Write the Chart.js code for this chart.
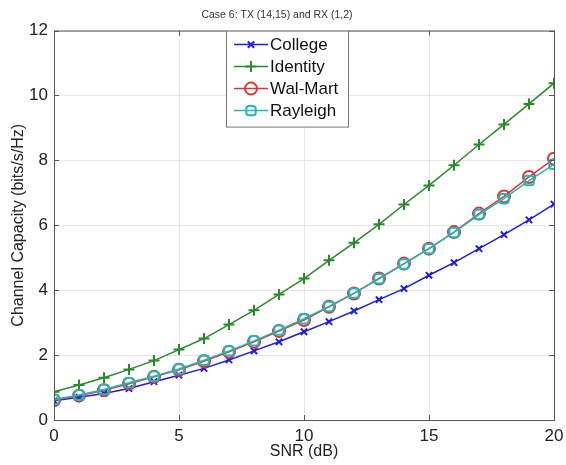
<!DOCTYPE html>
<html lang="en">
<head>
<meta charset="UTF-8">
<title>Case 6: TX (14,15) and RX (1,2)</title>
<script src="https://cdn.jsdelivr.net/npm/chart.js"></script>
<style>
  html, body { margin: 0; padding: 0; background: #fff; }
  #wrap { width: 566px; height: 465px; }
</style>
</head>
<body>
<div id="wrap"><canvas id="myChart" width="566" height="465"></canvas></div>
<script>
// data
const snr = [0, 1, 2, 3, 4, 5, 6, 7, 8, 9, 10, 11, 12, 13, 14, 15, 16, 17, 18, 19, 20];
const college  = [0.59, 0.70, 0.82, 0.97, 1.18, 1.38, 1.59, 1.85, 2.13, 2.41, 2.72, 3.03, 3.36, 3.71, 4.05, 4.46, 4.85, 5.28, 5.71, 6.17, 6.65];
const identity = [0.87, 1.08, 1.30, 1.56, 1.83, 2.17, 2.51, 2.94, 3.38, 3.87, 4.36, 4.92, 5.46, 6.03, 6.64, 7.23, 7.85, 8.49, 9.11, 9.74, 10.38];
const walmart  = [0.61, 0.75, 0.92, 1.12, 1.33, 1.55, 1.81, 2.10, 2.41, 2.74, 3.08, 3.49, 3.90, 4.36, 4.82, 5.28, 5.79, 6.36, 6.89, 7.49, 8.05];
const rayleigh = [0.63, 0.77, 0.94, 1.15, 1.35, 1.57, 1.84, 2.13, 2.44, 2.77, 3.12, 3.50, 3.91, 4.35, 4.81, 5.28, 5.78, 6.33, 6.82, 7.38, 7.88];
const seriesNames = ['College', 'Identity', 'Wal-Mart', 'Rayleigh'];
const xTicks = [0, 5, 10, 15, 20];
const yTicks = [0, 2, 4, 6, 8, 10, 12];

const FONT = "'Liberation Sans', Arial, sans-serif";

function series(name, values, color, style, radius, order) {
    return {
        label: name,
        data: snr.map((x, i) => ({ x: x, y: values[i] })),
        borderColor: color,
        backgroundColor: color,
        borderWidth: 1.5,
        pointStyle: style,
        pointRadius: radius,
        pointBorderColor: color,
        pointBackgroundColor: 'rgba(0,0,0,0)',
        pointBorderWidth: 2,
        tension: 0,
        order: order
    };
}

const datasets = [
    series(seriesNames[0], college, '#1f1fe0', 'crossRot', 4.5, 3),
    series(seriesNames[1], identity, '#2a8a2a', 'cross', 5.5, 2),
    series(seriesNames[2], walmart, '#e03535', 'circle', 6, 1),
    series(seriesNames[3], rayleigh, '#27b5b5', 'rectRounded', 5.5, 0)
];

// box around plot + legend inside the axes, matlab style
const matlabBox = {
    id: 'matlabBox',
    afterDraw(chart) {
        const ctx = chart.ctx;
        const a = chart.chartArea;
        ctx.save();
        ctx.strokeStyle = '#555';
        ctx.lineWidth = 1;
        ctx.strokeRect(a.left + 0.5, a.top + 0.5, a.right - a.left, a.bottom - a.top);

        // inward ticks
        const xs = chart.scales.x, ys = chart.scales.y;
        ctx.beginPath();
        xTicks.forEach(v => {
            const px = Math.round(xs.getPixelForValue(v)) + 0.5;
            ctx.moveTo(px, a.bottom); ctx.lineTo(px, a.bottom - 5);
            ctx.moveTo(px, a.top); ctx.lineTo(px, a.top + 5);
        });
        yTicks.forEach(v => {
            const py = Math.round(ys.getPixelForValue(v)) + 0.5;
            ctx.moveTo(a.left, py); ctx.lineTo(a.left + 5, py);
            ctx.moveTo(a.right, py); ctx.lineTo(a.right - 5, py);
        });
        ctx.stroke();

        // legend
        const lx = a.left + 172, ly = a.top, lw = 122, lh = 96;
        ctx.fillStyle = '#fff';
        ctx.fillRect(lx, ly, lw, lh);
        ctx.strokeStyle = '#777';
        ctx.strokeRect(lx + 0.5, ly + 0.5, lw, lh);
        ctx.font = '17px ' + FONT;
        ctx.textBaseline = 'middle';
        chart.data.datasets.forEach((ds, i) => {
            const cy = ly + 14 + i * 22;
            ctx.strokeStyle = ds.borderColor;
            ctx.lineWidth = 1.5;
            ctx.beginPath();
            ctx.moveTo(lx + 8, cy); ctx.lineTo(lx + 42, cy);
            ctx.stroke();
            ctx.lineWidth = 2;
            ctx.fillStyle = 'rgba(0,0,0,0)';
            Chart.helpers.drawPoint(ctx, { pointStyle: ds.pointStyle, radius: ds.pointRadius, borderWidth: 2, rotation: 0 }, lx + 25, cy);
            ctx.fillStyle = '#111';
            ctx.fillText(ds.label, lx + 44, cy + 1);
        });
        ctx.restore();
    }
};

const config = {
    type: 'line',
    data: { datasets: datasets },
    options: {
        responsive: false,
        animation: false,
        layout: { padding: { top: 0, right: 12, left: 0, bottom: 0 } },
        plugins: {
            legend: { display: false },
            tooltip: { enabled: false },
            title: {
                display: true,
                text: 'Case 6: TX (14,15) and RX (1,2)',
                color: '#333',
                font: { family: FONT, size: 10.5, weight: 'normal' },
                padding: { top: 9, bottom: 9 }
            }
        },
        scales: {
            x: {
                type: 'linear',
                min: 0,
                max: 20,
                afterBuildTicks: s => { s.ticks = xTicks.map(v => ({ value: v })); },
                afterFit: s => { s.height = 45; s.paddingLeft = 0; s.paddingRight = 0; },
                ticks: { color: '#222', font: { family: FONT, size: 17 }, padding: 6, maxRotation: 0 },
                grid: { color: '#e6e6e6', drawTicks: false },
                border: { display: false },
                title: { display: true, text: 'SNR (dB)', color: '#222', font: { family: FONT, size: 16 }, padding: { top: 2, bottom: 4 } }
            },
            y: {
                min: 0,
                max: 12,
                afterBuildTicks: s => { s.ticks = yTicks.map(v => ({ value: v })); },
                afterFit: s => { s.width = 54; s.paddingTop = 0; s.paddingBottom = 0; },
                ticks: { color: '#222', font: { family: FONT, size: 17 }, padding: 6 },
                grid: { color: '#e6e6e6', drawTicks: false },
                border: { display: false },
                title: { display: true, text: 'Channel Capacity (bits/s/Hz)', color: '#222', font: { family: FONT, size: 16 }, padding: { top: 9, bottom: 0 } }
            }
        }
    },
    plugins: [matlabBox]
};

var ctx = document.getElementById('myChart').getContext('2d');
var myChart = new Chart(ctx, config);
</script>
</body>
</html>
